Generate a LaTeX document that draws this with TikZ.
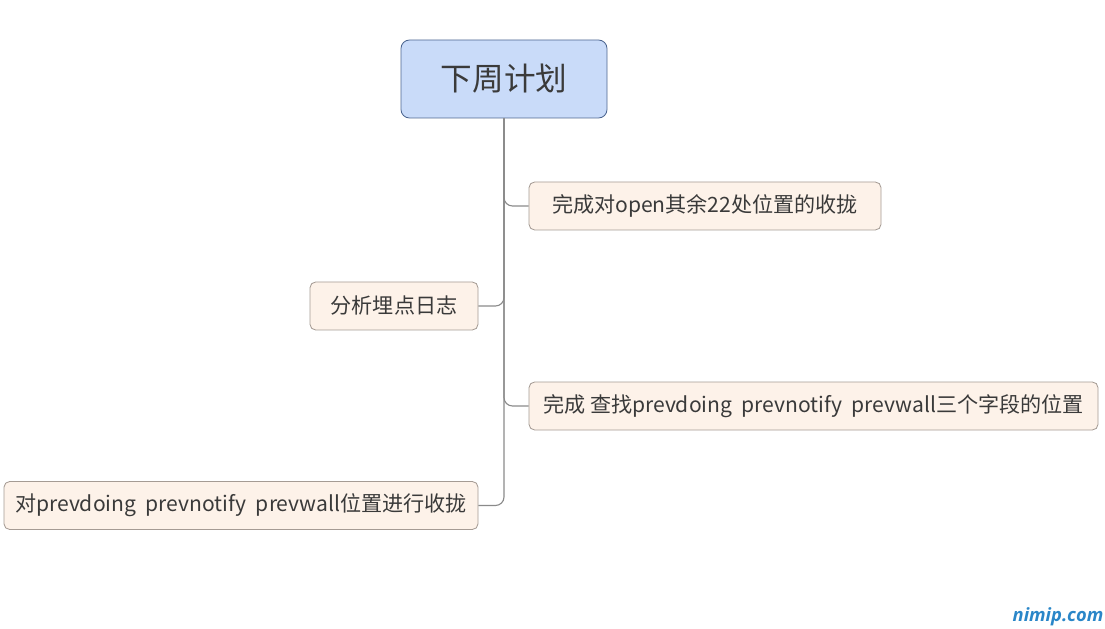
\documentclass[tikz,border=0pt]{standalone}
\usepackage{fontspec}
\setmainfont{Noto Sans CJK SC}
\setsansfont{Open Sans}
\definecolor{rootfill}{HTML}{C9DBF9}
\definecolor{rootdraw}{HTML}{4D6690}
\definecolor{leaffill}{HTML}{FDF2E9}
\definecolor{leafdraw}{HTML}{A59B94}
\definecolor{linecol}{HTML}{8A8A8A}
\definecolor{textcol}{HTML}{3A3A3A}
\definecolor{markcol}{HTML}{2A86C8}
\tikzset{
  rootbox/.style={draw=rootdraw, fill=rootfill, rounded corners=6pt, line width=0.6pt,
    minimum width=206*0.025cm, minimum height=78*0.025cm, text=textcol, font=\fontsize{22.5}{26}\selectfont},
  leafbox/.style={draw=leafdraw, fill=leaffill, rounded corners=4pt, line width=0.6pt,
    minimum height=48*0.025cm, text=textcol, font=\fontsize{15}{18}\selectfont, inner xsep=0pt},
  conn/.style={draw=linecol, line width=0.8pt, rounded corners=6pt}
}
\begin{document}
\begin{tikzpicture}[x=0.025cm, y=-0.025cm]
  \useasboundingbox (0,0) rectangle (1105,629);
  % central topic
  \node[rootbox] (plan) at (504,79) {下周计划};
  % subtopics
  \node[leafbox, minimum width=352*0.025cm] (open) at (705,206) {完成对open其余22处位置的收拢};
  \node[leafbox, minimum width=168*0.025cm] (log) at (394,306) {分析埋点日志};
  \node[leafbox, minimum width=569*0.025cm] (find) at (813.5,406) {完成 查找prevdoing\ \ prevnotify\ \ prevwall三个字段的位置};
  \node[leafbox, minimum width=474*0.025cm] (merge) at (241,505.5) {对prevdoing\ \ prevnotify\ \ prevwall位置进行收拢};
  % branches
  \draw[conn] (plan.south) |- (open.west);
  \draw[conn] (plan.south) |- (log.east);
  \draw[conn] (plan.south) |- (find.west);
  \draw[conn] (plan.south) |- (merge.east);
  % watermark
  \node[text=markcol, font=\sffamily\bfseries\itshape\fontsize{13}{15}\selectfont] (mark) at (1058,617) {nimip.com};
\end{tikzpicture}
\end{document}
